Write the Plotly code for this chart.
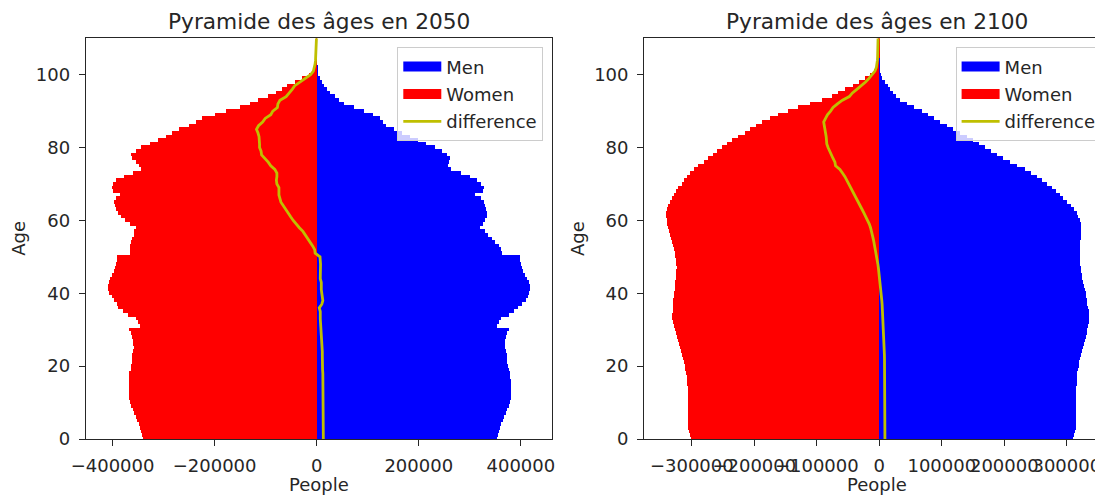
import plotly.graph_objects as go

# ---------------- data ----------------
ages = list(range(0, 111))

men_2050 = [
    353000, 356000, 358000, 360000, 362000, 365000, 367000, 370000, 373000, 376000,
    378000, 380000, 380000, 380000, 380000, 380000, 380000, 379000, 379000, 376000,
    375000, 373000, 372000, 372000, 371000, 369000, 369000, 369000, 371000, 373000,
    376000, 353000, 358000, 362000, 376000, 386000, 395000, 402000, 410000, 413000,
    415000, 417000, 417000, 415000, 412000, 408000, 405000, 403000, 401000, 399000,
    398000, 363000, 361000, 358000, 350000, 343000, 335000, 330000, 320000, 325000,
    330000, 333000, 334000, 332000, 330000, 327000, 321000, 311000, 326000, 327000,
    322000, 315000, 300000, 282000, 263000, 258000, 260000, 261000, 256000, 246000,
    232000, 215000, 198000, 183000, 168000, 152000, 136000, 130000, 124000, 110000,
    92000, 73000, 54000, 43000, 35000, 27000, 20000, 15000, 10000, 6000,
    3000, 1500, 800, 400, 200, 100, 50, 0, 0, 0, 0,
]
women_2050 = [
    340000, 343000, 345000, 347000, 349000, 352000, 354500, 357500, 360500, 363500,
    365500, 367500, 368000, 368000, 368000, 368000, 368000, 367000, 367000, 364500,
    364000, 362000, 361000, 361000, 360000, 358500, 359000, 360000, 362500, 364500,
    368000, 345500, 350500, 355000, 369000, 379000, 390000, 392000, 398000, 402000,
    406000, 408000, 408000, 406000, 405000, 400500, 397500, 395500, 393500, 392000,
    391500, 366000, 365000, 366000, 363000, 361000, 357000, 357000, 354000, 366000,
    376000, 384000, 390000, 393000, 396000, 397000, 393000, 385000, 400000, 401000,
    400000, 394000, 378000, 360000, 345000, 348000, 355000, 362000, 364000, 355000,
    344000, 327000, 310000, 296000, 283000, 270000, 250000, 236000, 225000, 200000,
    178000, 150000, 130000, 115000, 95000, 80000, 68000, 58000, 42000, 28000,
    15000, 8000, 5000, 3500, 2500, 2000, 1500, 1000, 800, 600, 500,
]
men_2100 = [
    310000, 312000, 314000, 314500, 314500, 314500, 314500, 314500, 314500, 314500,
    314500, 314500, 315000, 315000, 315500, 316000, 316500, 317000, 317500, 318500,
    319500, 320500, 322000, 323500, 325000, 326500, 328000, 329500, 331000, 332500,
    333500, 334500, 335500, 336500, 336500, 335500, 334500, 333500, 333000, 331500,
    330500, 329000, 328000, 327000, 325500, 324500, 323500, 322500, 322000, 322000,
    322000, 322000, 322000, 322000, 322000, 322500, 323000, 323500, 323500, 323000,
    321500, 319000, 316000, 312000, 307000, 301000, 295000, 289000, 283000, 276000,
    268000, 260000, 252000, 243000, 233000, 220000, 209000, 199000, 189000, 179000,
    169000, 160000, 151000, 140000, 129000, 119000, 108000, 98000, 88000, 78000,
    68000, 56000, 44000, 33000, 27000, 22000, 18000, 14000, 10000, 5500,
    3000, 1500, 800, 400, 200, 100, 50, 0, 0, 0, 0,
]
women_2100 = [
    301000, 303000, 304500, 305000, 305000, 305000, 305000, 305000, 305000, 305000,
    305000, 305000, 305500, 306000, 306000, 306500, 307500, 308000, 308500, 309700,
    310800, 312000, 313700, 315300, 317000, 318700, 320300, 322000, 323700, 325500,
    326700, 328000, 329300, 330600, 330900, 330200, 329500, 329000, 329000, 328000,
    327500, 326500, 326000, 325700, 324800, 324500, 324200, 324000, 324300, 325200,
    326200, 327200, 328300, 329400, 330600, 332300, 334000, 336000, 337500, 339000,
    340000, 340500, 340500, 339500, 337500, 334500, 331500, 328500, 325000, 321000,
    316000, 311500, 307000, 302000, 296000, 290000, 280000, 273000, 266000, 259000,
    251000, 244000, 235000, 225000, 215000, 206000, 197000, 187000, 174000, 161000,
    146000, 130000, 111000, 92000, 75000, 65000, 54000, 42000, 32000, 22000,
    14000, 8500, 5500, 4000, 3200, 2800, 2500, 2300, 2200, 2100, 2000,
]

titles = ["Pyramide des âges en 2050", "Pyramide des âges en 2100"]
series_names = ["Men", "Women", "difference"]
x_ticks = [
    [-400000, -200000, 0, 200000, 400000],
    [-300000, -200000, -100000, 0, 100000, 200000, 300000],
]
y_ticks = [0, 20, 40, 60, 80, 100]
x_label = "People"
y_label = "Age"

for arr in (men_2050, women_2050, men_2100, women_2100):
    assert len(arr) == len(ages)

# ---------------- layout geometry ----------------
# The page body has an 8px default margin, so the figure is drawn 8px
# smaller and all positions below are given in window pixels minus 8.
OFF = 8
W, H = 1103 - OFF, 495 - OFF
FONT = "DejaVu Sans"
TXT = "#262626"
FS = 18
BLUE, RED, OLIVE = "#0000ff", "#ff0000", "#bfbf00"


def px(v):
    return v - OFF


axes_px = [(px(86), px(552)), (px(644.3), px(1110.3))]
x_domains = [[axes_px[0][0] / W, axes_px[0][1] / W], [axes_px[1][0] / W, 1.0]]
x_ranges = [[-452000, 461000], [-376000, 357900]]
y_domain = [(H - px(439)) / H, (H - px(38.3)) / H]
y_range = [0, 110]
legend_x = [px(543.3) / W, px(1101.6) / W]
legend_top = (H - px(47.3)) / H


def fmt(v):
    return str(v).replace("-", "\u2212")


fig = go.Figure()
data = [(men_2050, women_2050), (men_2100, women_2100)]
for i, (men, women) in enumerate(data):
    xa = "x" if i == 0 else "x2"
    ya = "y" if i == 0 else "y2"
    leg = "legend" if i == 0 else "legend2"
    diff = [m - w for m, w in zip(men, women)]
    # bars (legend entry drawn by a wide-patch legend stand-in of the same group)
    fig.add_trace(go.Bar(
        y=ages, x=men, orientation="h", width=1,
        marker=dict(color=BLUE, line=dict(width=0)),
        name=series_names[0], xaxis=xa, yaxis=ya, legend=leg,
        legendgroup=f"m{i}", showlegend=False,
    ))
    fig.add_trace(go.Scatter(
        x=[None], y=[None], mode="lines", line=dict(color=BLUE, width=13),
        name=series_names[0], xaxis=xa, yaxis=ya, legend=leg,
        legendgroup=f"m{i}", hoverinfo="skip",
    ))
    fig.add_trace(go.Bar(
        y=ages, x=[-w for w in women], orientation="h", width=1,
        marker=dict(color=RED, line=dict(width=0)),
        name=series_names[1], xaxis=xa, yaxis=ya, legend=leg,
        legendgroup=f"w{i}", showlegend=False,
    ))
    fig.add_trace(go.Scatter(
        x=[None], y=[None], mode="lines", line=dict(color=RED, width=13),
        name=series_names[1], xaxis=xa, yaxis=ya, legend=leg,
        legendgroup=f"w{i}", hoverinfo="skip",
    ))
    fig.add_trace(go.Scatter(
        y=ages, x=diff, mode="lines",
        line=dict(color=OLIVE, width=2.8),
        name=series_names[2], xaxis=xa, yaxis=ya, legend=leg,
        legendgroup=f"d{i}",
    ))

axis_common = dict(
    showline=True, linecolor=TXT, linewidth=1.4,
    ticks="outside", ticklen=6, tickwidth=1.4, tickcolor=TXT,
    showgrid=False, zeroline=False, automargin=False,
    tickfont=dict(family=FONT, size=FS, color=TXT),
)

layout = dict(
    template="none",
    width=W, height=H,
    margin=dict(l=0, r=0, t=0, b=0, pad=0),
    paper_bgcolor="white", plot_bgcolor="white",
    barmode="overlay", bargap=0,
    showlegend=True,
    font=dict(family=FONT, color=TXT, size=FS),
)
for i in range(2):
    sx = "" if i == 0 else "2"
    layout["xaxis" + sx] = dict(
        axis_common, domain=x_domains[i], range=x_ranges[i],
        anchor="y" + sx, mirror=True, tickangle=0,
        tickvals=x_ticks[i], ticktext=[fmt(v) for v in x_ticks[i]],
        ticklabelstandoff=4,
    )
    layout["yaxis" + sx] = dict(
        axis_common, domain=y_domain, range=y_range,
        anchor="x" + sx, mirror=(i == 0),
        tickvals=y_ticks, ticktext=[str(v) for v in y_ticks],
        ticklabelstandoff=5,
    )
    layout["legend" + sx] = dict(
        x=legend_x[i], xanchor="right", y=legend_top, yanchor="top",
        bgcolor="rgba(255,255,255,0.8)", bordercolor="#cccccc", borderwidth=1,
        font=dict(family=FONT, size=FS, color=TXT),
        traceorder="grouped", tracegroupgap=1, itemwidth=38,
    )

fig.update_layout(**layout)

annotations = []
for i, (l, r) in enumerate(axes_px):
    cx = (l + r) / 2 / W
    annotations.append(dict(
        text=titles[i], x=cx, y=(H - px(21)) / H, xref="paper", yref="paper",
        xanchor="center", yanchor="middle", showarrow=False,
        font=dict(family=FONT, size=21.7, color=TXT),
    ))
    annotations.append(dict(
        text=x_label, x=cx, y=(H - px(484)) / H, xref="paper", yref="paper",
        xanchor="center", yanchor="middle", showarrow=False,
        font=dict(family=FONT, size=FS, color=TXT),
    ))
    annotations.append(dict(
        text=y_label, x=(l - 67) / W, y=(H - px(238.7)) / H, xref="paper", yref="paper",
        xanchor="center", yanchor="middle", showarrow=False, textangle=-90,
        font=dict(family=FONT, size=FS, color=TXT),
    ))
fig.update_layout(annotations=annotations)

fig.write_html("out.html")
